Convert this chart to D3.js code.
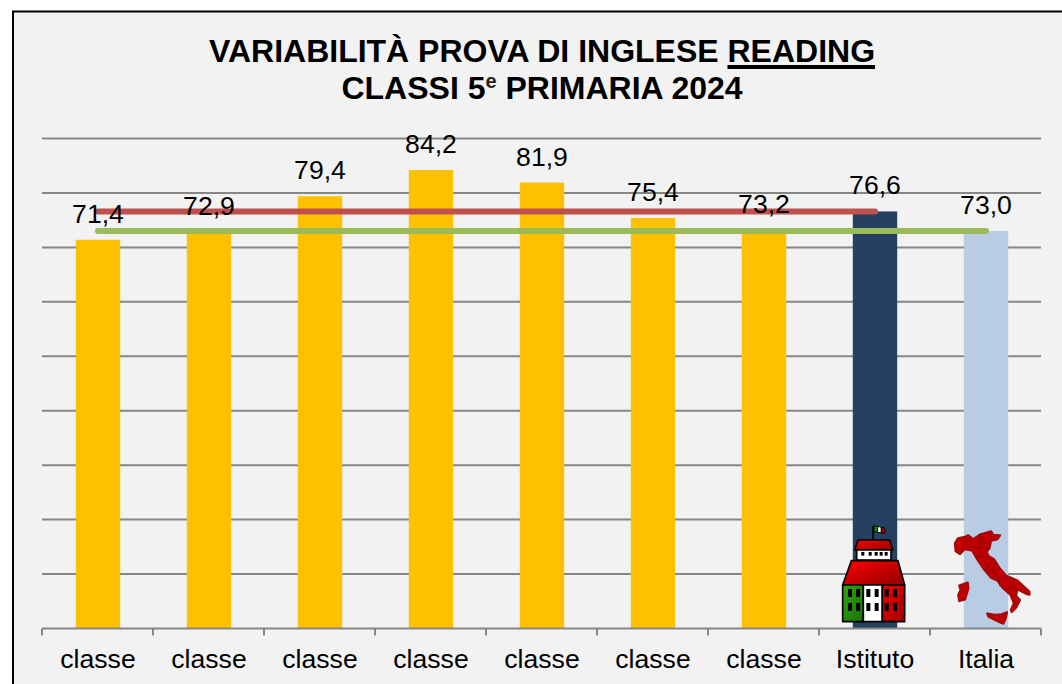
<!DOCTYPE html>
<html>
<head>
<meta charset="utf-8">
<script src="https://cdn.jsdelivr.net/npm/d3@7"></script>
<style>
  html, body { margin: 0; padding: 0; background: #fff; }
  svg { display: block; }
  text { font-family: "Liberation Sans", Arial, sans-serif; fill: #000; }
</style>
</head>
<body>
<div id="the-chart"></div>
<script>
const categories = ['classe 1', 'classe 2', 'classe 3', 'classe 4', 'classe 5', 'classe 6', 'classe 7', 'Istituto', 'Italia'];
const tickLabels = ['classe', 'classe', 'classe', 'classe', 'classe', 'classe', 'classe', 'Istituto', 'Italia'];
const values = [71.4, 72.9, 79.4, 84.2, 81.9, 75.4, 73.2, 76.6, 73.0];
const barColors = ['#ffc000', '#ffc000', '#ffc000', '#ffc000', '#ffc000', '#ffc000', '#ffc000', '#254061', '#b8cce4'];
const yTicks = [0, 10, 20, 30, 40, 50, 60, 70, 80, 90];
const istitutoLine = [76.6, 76.6, 76.6, 76.6, 76.6, 76.6, 76.6, 76.6];
const italiaLine = [73.0, 73.0, 73.0, 73.0, 73.0, 73.0, 73.0, 73.0, 73.0];

const width = 1062, height = 684;
const svg = d3.select('#the-chart').append('svg').attr('width', width).attr('height', height);

// chart area, runs off the right and bottom of the picture
svg.append('rect').attr('x', 13).attr('y', 11.5).attr('width', 1060).attr('height', 690)
  .attr('fill', '#f2f2f2').attr('stroke', '#000').attr('stroke-width', 2);

const x = d3.scaleBand().domain(categories).range([42.5, 1041.5]).paddingInner(0.6).paddingOuter(0.3);
const y = d3.scaleLinear().domain([0, 90]).range([628.5, 138.5]);
const center = d => x(d) + x.bandwidth() / 2;

// gridlines
svg.append('g').selectAll('line').data(yTicks.slice(1)).join('line')
  .attr('x1', 42).attr('x2', 1041)
  .attr('y1', d => y(d)).attr('y2', d => y(d))
  .attr('stroke', '#868686').attr('stroke-width', 2);

// bars
svg.append('g').selectAll('rect').data(values).join('rect')
  .attr('x', (d, i) => x(categories[i]))
  .attr('y', d => y(d))
  .attr('width', x.bandwidth())
  .attr('height', d => y(0) - y(d))
  .attr('fill', (d, i) => barColors[i]);

// category axis, ticks sit on the band edges
const edges = d3.range(categories.length + 1).map(i => 42 + i * 999 / categories.length);
const axis = svg.append('g');
axis.append('line').attr('x1', 42).attr('x2', 1041).attr('y1', y(0)).attr('y2', y(0))
  .attr('stroke', '#868686').attr('stroke-width', 2);
axis.selectAll('line.tick').data(edges).join('line').attr('class', 'tick')
  .attr('x1', d => d).attr('x2', d => d)
  .attr('y1', y(0)).attr('y2', y(0) + 7)
  .attr('stroke', '#868686').attr('stroke-width', 2);
axis.selectAll('text').data(tickLabels).join('text')
  .attr('x', (d, i) => center(categories[i]))
  .attr('y', 668)
  .attr('text-anchor', 'middle')
  .attr('font-size', 26.6)
  .text(d => d);

// reference lines
const line = d3.line().x((d, i) => center(categories[i])).y(d => y(d));
svg.append('path').attr('d', line(istitutoLine)).attr('fill', 'none')
  .attr('stroke', '#c0504d').attr('stroke-width', 6).attr('stroke-linecap', 'round');
svg.append('path').attr('d', line(italiaLine)).attr('fill', 'none')
  .attr('stroke', '#9bbb59').attr('stroke-width', 6).attr('stroke-linecap', 'round');

// value labels
svg.append('g').selectAll('text').data(values).join('text')
  .attr('x', (d, i) => center(categories[i]))
  .attr('y', d => y(d) - 17)
  .attr('text-anchor', 'middle')
  .attr('font-size', 26.6)
  .text(d => d3.format('.1f')(d).replace('.', ','));

// title
const title = svg.append('g').attr('font-size', 32);
const t1 = title.append('text').attr('x', 542).attr('y', 62).attr('text-anchor', 'middle').style('font-weight', 'bold');
t1.append('tspan').text('VARIABILITÀ PROVA DI INGLESE ');
const reading = t1.append('tspan').text('READING');
const rb = reading.node().getBBox();
title.append('rect').attr('x', rb.x).attr('y', 65).attr('width', rb.width).attr('height', 4).attr('fill', '#000');
const t2 = title.append('text').attr('x', 542).attr('y', 98.5).attr('text-anchor', 'middle').style('font-weight', 'bold');
t2.append('tspan').text('CLASSI 5');
t2.append('tspan').attr('dy', -11).attr('font-size', 20).attr('fill', '#222').text('e');
t2.append('tspan').attr('dy', 11).text(' PRIMARIA 2024');

// icons, traced by hand at 3x from the bottom of the last two bars
const defs = svg.append('defs');
function gradient(id, from, to) {
  const g = defs.append('linearGradient').attr('id', id).attr('x1', 0).attr('y1', 0).attr('x2', 1).attr('y2', 1);
  g.append('stop').attr('offset', '0%').attr('stop-color', from);
  g.append('stop').attr('offset', '100%').attr('stop-color', to);
}
gradient('roofRed', '#ff0000', '#8f0000');
gradient('wallRed', '#f00000', '#a00000');
gradient('wallGreen', '#2fa80c', '#1a7005');

const school = svg.append('g').attr('transform', 'translate(838,520) scale(0.3333)')
  .attr('stroke', '#000').attr('stroke-width', 5).attr('stroke-linejoin', 'round');
school.append('line').attr('x1', 105).attr('y1', 18).attr('x2', 105).attr('y2', 60).attr('stroke-width', 5);
school.append('polygon').attr('points', '108,17 119,19 119,37 108,35').attr('fill', '#1c8a10').attr('stroke-width', 3);
school.append('polygon').attr('points', '119,19 130,22 130,39 119,37').attr('fill', '#fff').attr('stroke-width', 3);
school.append('polygon').attr('points', '130,22 141,24 141,40 130,39').attr('fill', '#b00000').attr('stroke-width', 3);
school.append('polygon').attr('points', '60,60 155,60 165,90 50,90').attr('fill', 'url(#roofRed)');
school.append('rect').attr('x', 56).attr('y', 90).attr('width', 103).attr('height', 30).attr('fill', '#fff');
school.selectAll('rect.top').data([70, 92, 110, 125, 140]).join('rect').attr('class', 'top')
  .attr('x', d => d).attr('y', 96).attr('width', 9).attr('height', 11).attr('fill', '#000').attr('stroke', 'none');
school.append('polygon').attr('points', '40,122 180,122 200,195 14,195').attr('fill', 'url(#roofRed)');
school.append('rect').attr('x', 14).attr('y', 195).attr('width', 62).attr('height', 110).attr('fill', 'url(#wallGreen)');
school.append('rect').attr('x', 76).attr('y', 195).attr('width', 57).attr('height', 110).attr('fill', '#fff');
school.append('rect').attr('x', 133).attr('y', 195).attr('width', 67).attr('height', 110).attr('fill', 'url(#wallRed)');
[30, 54, 85, 110, 140, 165].forEach(wx => {
  [207, 249].forEach(wy => {
    school.append('rect').attr('x', wx).attr('y', wy).attr('width', 12).attr('height', 24)
      .attr('fill', '#000').attr('stroke', 'none');
  });
});

const italy = svg.append('g').attr('transform', 'translate(820,510) scale(0.3333)')
  .attr('fill', '#c00000').attr('stroke', '#a80808').attr('stroke-width', 7).attr('stroke-linejoin', 'round');
italy.append('path').attr('d', 'M405,100 L414,85 L435,81 L445,76 L460,88 L480,74 L513,64 L520,75 L540,76 L533,87 L513,92 L508,115 L500,125 L505,138 L522,148 L538,173 L558,197 L592,212 L628,245 L628,254 L620,252 L592,238 L588,258 L600,270 L588,293 L575,306 L573,300 L582,280 L572,255 L547,232 L533,212 L512,202 L492,178 L472,148 L457,122 L435,117 L420,132 L407,123 Z');
italy.append('path').attr('d', 'M418,227 L443,218 L445,235 L435,268 L418,273 L415,255 L422,240 Z');
italy.append('path').attr('d', 'M502,311 L525,315 L545,313 L561,307 L557,325 L550,341 L530,332 L506,320 Z');
// region borders
italy.append('path').attr('fill', 'none').attr('stroke', '#6a0a0a').attr('stroke-width', 2)
  .attr('d', 'M435,78 L445,110 M445,110 L480,115 L510,115 M480,70 L482,92 L512,106 M482,92 L478,115 M470,140 L505,140 M505,150 L498,178 L520,185 L525,158 M520,185 L535,205 L555,200 M535,205 L540,230 M568,205 L572,228 L560,245 M572,228 L595,240');
</script>
</body>
</html>
